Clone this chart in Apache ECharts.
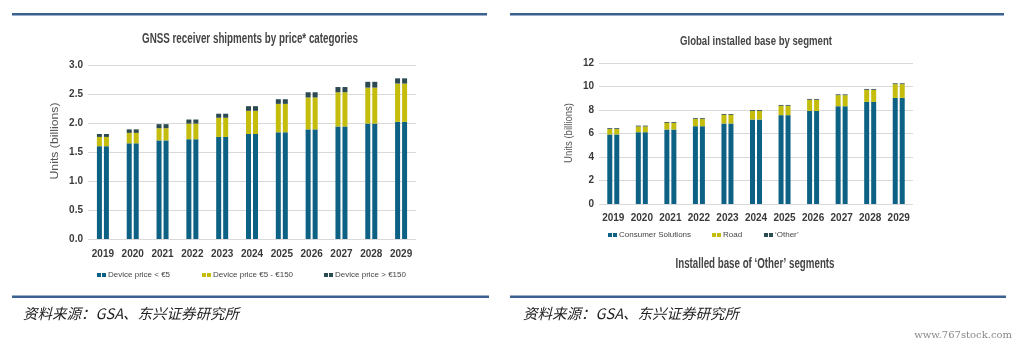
<!DOCTYPE html>
<html><head><meta charset="utf-8">
<script src="https://cdn.jsdelivr.net/npm/echarts@6/dist/echarts.min.js"></script>
<style>html,body{margin:0;padding:0;background:#fff}#c{width:1026px;height:345px}</style>
</head><body><div id="c"></div>
<script>
var years = ['2019','2020','2021','2022','2023','2024','2025','2026','2027','2028','2029'];
// Left chart: GNSS receiver shipments (billions)
var priceLow = [1.60,1.65,1.70,1.72,1.76,1.81,1.84,1.89,1.94,1.99,2.02];
var priceMid = [0.16,0.18,0.21,0.27,0.33,0.40,0.49,0.55,0.59,0.62,0.66];
var priceHigh = [0.05,0.06,0.07,0.07,0.07,0.08,0.08,0.09,0.09,0.10,0.09];
var leftTicks = [0,0.5,1.0,1.5,2.0,2.5,3.0];
// Right chart: global installed base (billions)
var consumer = [5.92,6.11,6.34,6.62,6.85,7.19,7.56,7.92,8.32,8.69,9.03];
var road = [0.46,0.49,0.57,0.61,0.74,0.74,0.80,0.95,0.94,1.03,1.17];
var other = [0.07,0.07,0.07,0.07,0.07,0.07,0.07,0.07,0.07,0.07,0.07];
var rightTicks = [0,2,4,6,8,10,12];

var C_BLUE = '#0d6184', C_YEL = '#c4bd0e', C_DARK = '#2c4a52';
var SANS = '"Liberation Sans",Arial,sans-serif';
var chart = echarts.init(document.getElementById('c'));
var icon = 'path://M0,0H4V4H0ZM5,0H9V4H5Z';
var mctx = document.createElement('canvas').getContext('2d');
function fitText(text, font, cx, cy, target, color, rot){
  mctx.font = font;
  var w = mctx.measureText(text).width;
  return {type:'text', x:cx, y:cy, scaleX: target / w, rotation: rot || 0,
    style:{text:text, font:font, fill:color, align:'center', verticalAlign:'middle'}};
}

function mk(name, data, color, g, stack){
  return {name:name, type:'bar', xAxisIndex:g, yAxisIndex:g, stack:stack, data:data,
    barWidth:5, barGap:'40%', itemStyle:{color:color}, emphasis:{disabled:true}};
}
function leg(name, left, top){
  return {data:[name], left:left, top:top, icon:icon, itemWidth:9, itemHeight:4, itemGap:0,
    padding:0, selectedMode:false, textStyle:{fontFamily:SANS, fontSize:8, color:'#444', padding:[0,0,0,-3]}};
}
var series = [];
['a','b'].forEach(function(s){
  series.push(mk('Device price < €5', priceLow, C_BLUE, 0, 'L'+s));
  series.push(mk('Device price €5 - €150', priceMid, C_YEL, 0, 'L'+s));
  series.push(mk('Device price > €150', priceHigh, C_DARK, 0, 'L'+s));
});
['a','b'].forEach(function(s){
  series.push(mk('Consumer Solutions', consumer, C_BLUE, 1, 'R'+s));
  series.push(mk('Road', road, C_YEL, 1, 'R'+s));
  series.push(mk('‘Other’', other, C_DARK, 1, 'R'+s));
});

var axisLab = {fontFamily:SANS, fontWeight:'bold', fontSize:10, color:'#3a3a3a'};
var lineCol = '#3a6190';
chart.setOption({
  animation:false,
  legend:[
    leg('Device price < €5', 97, 271), leg('Device price €5 - €150', 202, 271), leg('Device price > €150', 324, 271),
    leg('Consumer Solutions', 608, 231), leg('Road', 712, 231), leg('‘Other’', 764, 231)
  ],
  grid:[
    {left:88, width:328, top:65, height:174},
    {left:599, width:314, top:63, height:141}
  ],
  xAxis:[
    {type:'category', gridIndex:0, data:years, axisTick:{show:false}, axisLine:{show:false},
     axisLabel:Object.assign({margin:10, interval:0}, axisLab)},
    {type:'category', gridIndex:1, data:years, axisTick:{show:false}, axisLine:{show:false},
     axisLabel:Object.assign({margin:9, interval:0}, axisLab)}
  ],
  yAxis:[
    {type:'value', gridIndex:0, min:leftTicks[0], max:leftTicks[leftTicks.length-1], interval:0.5,
     axisLine:{show:false}, axisTick:{show:false},
     splitLine:{lineStyle:{color:'#d9d9d9', width:1}},
     axisLabel:Object.assign({margin:5, formatter:function(v){return v.toFixed(1);}}, axisLab)},
    {type:'value', gridIndex:1, min:rightTicks[0], max:rightTicks[rightTicks.length-1], interval:2,
     axisLine:{show:false}, axisTick:{show:false},
     splitLine:{lineStyle:{color:'#d9d9d9', width:1}},
     axisLabel:Object.assign({margin:5}, axisLab)}
  ],
  series:series,
  graphic:[
    {type:'rect', shape:{x:12, y:13, width:475, height:2.5}, style:{fill:lineCol}},
    {type:'rect', shape:{x:510, y:13, width:494, height:2.5}, style:{fill:lineCol}},
    {type:'rect', shape:{x:12, y:295.5, width:477, height:2.5}, style:{fill:lineCol}},
    {type:'rect', shape:{x:510, y:295.5, width:496, height:2.5}, style:{fill:lineCol}},
    fitText('GNSS receiver shipments by price* categories', 'bold 14px "Liberation Sans"', 250, 39, 216, '#454545'),
    fitText('Global installed base by segment', 'bold 13px "Liberation Sans"', 756, 41, 152, '#454545'),
    fitText('Installed base of ‘Other’ segments', 'bold 14px "Liberation Sans"', 755, 264, 159, '#454545'),
    fitText('Units (billions)', '11px "Liberation Sans"', 55, 141, 77, '#555', Math.PI/2),
    fitText('Units (billions)', '11px "Liberation Sans"', 569, 133, 60, '#555', Math.PI/2),
    {type:'text', x:23, y:313,
     style:{text:'资料来源：GSA、东兴证券研究所', font:'italic 14.5px "Noto Sans CJK SC"', fill:'#222', verticalAlign:'middle'}},
    {type:'text', x:523, y:313,
     style:{text:'资料来源：GSA、东兴证券研究所', font:'italic 14.5px "Noto Sans CJK SC"', fill:'#222', verticalAlign:'middle'}},
    {type:'text', x:1012, y:335,
     style:{text:'www.767stock.com', font:'10px "DejaVu Serif","Liberation Serif",serif', fill:'#888', align:'right', verticalAlign:'middle'}}
  ]
});
</script></body></html>
